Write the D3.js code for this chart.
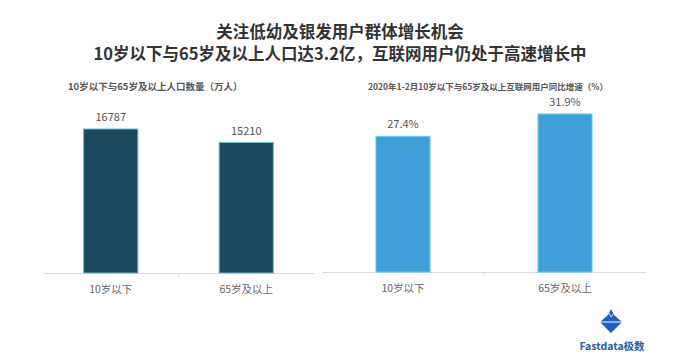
<!DOCTYPE html>
<html><head><meta charset="utf-8">
<script src="https://cdn.jsdelivr.net/npm/d3@7"></script>
<style>body{margin:0;background:#fff;}svg{display:block;font-family:"Noto Sans CJK SC","Noto Sans",sans-serif;}</style>
</head><body>
<svg id="c" width="679" height="363"></svg>
<script>
const titleLines = ["关注低幼及银发用户群体增长机会", "10岁以下与65岁及以上人口达3.2亿，互联网用户仍处于高速增长中"];
const categories = ["10岁以下", "65岁及以上"];
const populationTitle = "10岁以下与65岁及以上人口数量（万人）";
const populationValues = [16787, 15210];
const growthTitle = "2020年1-2月10岁以下与65岁及以上互联网用户同比增速（%）";
const growthValues = [27.4, 31.9];
const growthLabels = ["27.4%", "31.9%"];
const brand = "Fastdata极数";

const svg = d3.select("#c");

svg.selectAll("text.title").data(titleLines).enter().append("text")
  .attr("class","title").attr("x",340).attr("y",(d,i)=>38+i*22)
  .attr("text-anchor","middle").attr("font-size",16.5).attr("font-weight","bold")
  .attr("fill","#333").text(d=>d);

function panel(opts){
  const g = svg.append("g");
  const x = d3.scaleBand().domain(categories).range([opts.x0, opts.x1]);
  const y = d3.scaleLinear().domain([0, opts.max]).range([opts.base, opts.top]);
  g.append("text").attr("x",opts.tx).attr("y",90).attr("font-size",opts.tfs).attr("font-weight","bold")
    .attr("fill","#555").text(opts.title);
  const axis = d3.axisBottom(x).tickSize(0).tickFormat("");
  const ag = g.append("g").attr("transform",`translate(0,${opts.base})`).call(axis);
  ag.select(".domain").attr("stroke","#dcdcdc");
  g.selectAll("line.sep").data(x.domain().slice(1)).enter().append("line")
    .attr("x1",d=>x(d)).attr("x2",d=>x(d)).attr("y1",opts.base).attr("y2",opts.base+4).attr("stroke","#dcdcdc");
  const bw = x.bandwidth()*opts.frac;
  g.selectAll("rect").data(opts.values).enter().append("rect")
    .attr("x",(d,i)=>x(categories[i])+x.bandwidth()/2-bw/2)
    .attr("width",bw).attr("y",d=>y(d)).attr("height",d=>opts.base-y(d))
    .attr("fill",opts.color).attr("stroke",opts.stroke).attr("stroke-width",1);
  g.selectAll("text.val").data(opts.values).enter().append("text").attr("class","val")
    .attr("x",(d,i)=>x(categories[i])+x.bandwidth()/2).attr("y",d=>y(d)-8)
    .attr("text-anchor","middle").attr("font-size",11).attr("fill","#555")
    .text((d,i)=>opts.labels[i]);
  g.selectAll("text.cat").data(categories).enter().append("text").attr("class","cat")
    .attr("x",d=>x(d)+x.bandwidth()/2).attr("y",opts.base+20)
    .attr("text-anchor","middle").attr("font-size",10.5).attr("fill","#666").text(d=>d);
}

panel({x0:43,x1:314,base:273,top:129,max:16787,title:populationTitle,tx:68,tfs:9.5,
  values:populationValues,labels:populationValues.map(String),color:"#1b4a5e",stroke:"#6fb3c9",frac:0.4});
panel({x0:322,x1:646,base:272,top:114,max:31.9,title:growthTitle,tx:368,tfs:8.5,
  values:growthValues,labels:growthLabels,color:"#3d9fd6",stroke:"#63cdf0",frac:1/3});

const lg = svg.append("g").attr("transform","translate(611,322)");
lg.append("path").attr("d","M0,-13 L3,-7 L11,0 L0,11 L-11,0 L-3,-7 Z").attr("fill","#1f5fc4");
lg.append("path").attr("d","M-11,0 L11,0").attr("stroke","#fff").attr("stroke-width",1);
lg.append("path").attr("d","M-2,-9 L0,-5 L2,-8").attr("stroke","#fff").attr("stroke-width",0.8).attr("fill","none");
svg.append("text").attr("x",612).attr("y",350).attr("text-anchor","middle").attr("font-size",10.5)
  .attr("font-weight","bold").attr("fill","#2b5aa6").text(brand);
</script>
</body></html>
